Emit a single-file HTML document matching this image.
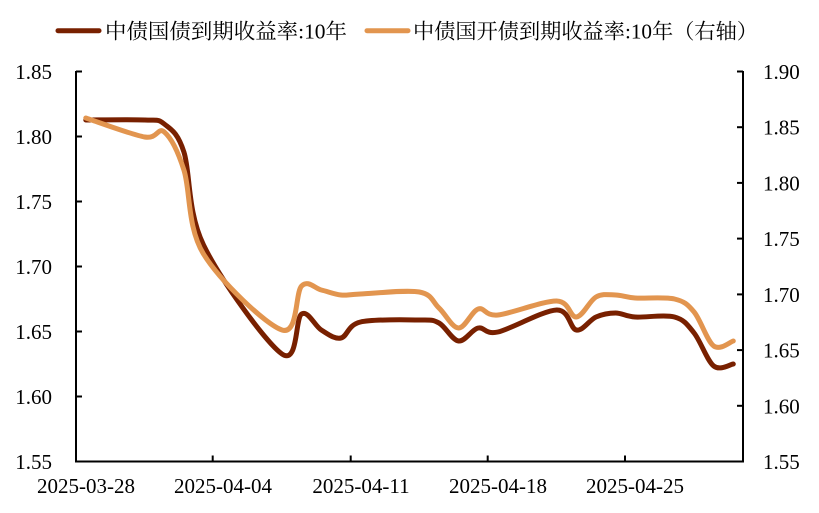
<!DOCTYPE html>
<html>
<head>
<meta charset="utf-8">
<style>
  html, body { margin:0; padding:0; background:#ffffff; }
  body { width:819px; height:513px; overflow:hidden; }
  svg { display:block; }
  .tk { font-family:"Liberation Serif", "Noto Serif CJK SC", serif; font-size:21px; fill:#000; }
  .lg { font-family:"Liberation Serif", "Noto Serif CJK SC", serif; font-size:21px; fill:#000; }
</style>
</head>
<body>
<svg width="819" height="513" viewBox="0 0 819 513" xmlns="http://www.w3.org/2000/svg">
  <rect x="0" y="0" width="819" height="513" fill="#ffffff"/>

  <!-- Legend -->
  <line x1="58" y1="30.7" x2="99" y2="30.7" stroke="#782000" stroke-width="5" stroke-linecap="round"/>
  <text class="lg" x="105" y="38.5" textLength="242" lengthAdjust="spacingAndGlyphs">中债国债到期收益率:10年</text>
  <line x1="367" y1="30.7" x2="408" y2="30.7" stroke="#E2954F" stroke-width="5" stroke-linecap="round"/>
  <text class="lg" x="413" y="38.5" textLength="345" lengthAdjust="spacingAndGlyphs">中债国开债到期收益率:10年（右轴）</text>

  <!-- Axes -->
  <g stroke="#000" stroke-width="2" fill="none">
    <line x1="76" y1="71" x2="76" y2="462.5"/>
    <line x1="743" y1="71" x2="743" y2="462.5"/>
    <line x1="75" y1="461.5" x2="744" y2="461.5"/>
    <!-- left ticks -->
    <line x1="76" y1="71.5" x2="82" y2="71.5"/>
    <line x1="76" y1="136.5" x2="82" y2="136.5"/>
    <line x1="76" y1="201.5" x2="82" y2="201.5"/>
    <line x1="76" y1="266.5" x2="82" y2="266.5"/>
    <line x1="76" y1="331.5" x2="82" y2="331.5"/>
    <line x1="76" y1="396.5" x2="82" y2="396.5"/>
    <!-- right ticks -->
    <line x1="737" y1="71.5" x2="743" y2="71.5"/>
    <line x1="737" y1="127.2" x2="743" y2="127.2"/>
    <line x1="737" y1="182.9" x2="743" y2="182.9"/>
    <line x1="737" y1="238.6" x2="743" y2="238.6"/>
    <line x1="737" y1="294.4" x2="743" y2="294.4"/>
    <line x1="737" y1="350.1" x2="743" y2="350.1"/>
    <line x1="737" y1="405.8" x2="743" y2="405.8"/>
    <!-- x ticks -->
    <line x1="212.7" y1="455.5" x2="212.7" y2="461.5"/>
    <line x1="350.7" y1="455.5" x2="350.7" y2="461.5"/>
    <line x1="487.7" y1="455.5" x2="487.7" y2="461.5"/>
    <line x1="625" y1="455.5" x2="625" y2="461.5"/>
  </g>

  <!-- Left tick labels -->
  <g class="tk" text-anchor="end">
    <text x="52" y="79">1.85</text>
    <text x="52" y="144">1.80</text>
    <text x="52" y="209">1.75</text>
    <text x="52" y="274">1.70</text>
    <text x="52" y="339">1.65</text>
    <text x="52" y="404">1.60</text>
    <text x="52" y="469">1.55</text>
  </g>
  <!-- Right tick labels -->
  <g class="tk" text-anchor="start">
    <text x="763" y="79">1.90</text>
    <text x="763" y="134.7">1.85</text>
    <text x="763" y="190.4">1.80</text>
    <text x="763" y="246.1">1.75</text>
    <text x="763" y="301.9">1.70</text>
    <text x="763" y="357.6">1.65</text>
    <text x="763" y="413.3">1.60</text>
    <text x="763" y="469">1.55</text>
  </g>
  <!-- X labels -->
  <g class="tk" text-anchor="middle">
    <text x="86" y="493">2025-03-28</text>
    <text x="223" y="493">2025-04-04</text>
    <text x="361" y="493">2025-04-11</text>
    <text x="498" y="493">2025-04-18</text>
    <text x="635" y="493">2025-04-25</text>
  </g>

  <!-- Series -->
  <path id="s1" fill="none" stroke="#782000" stroke-width="5" stroke-linecap="round" stroke-linejoin="round"
    d="M85.8,120 L144.7,120 L164.3,124 L183.9,152 L203.5,245 L282,354 L301.6,314 L321.3,330 L340.9,338 L360.5,322 L419.4,320 L439,323 L458.6,341 L478.2,328 L497.9,332 L556.7,310 L576.4,330 L596,317 L615.6,313 L635.2,317 L674.5,317 L694.1,333 L713.7,366 L733.3,364"/>
  <path id="s2" fill="none" stroke="#E2954F" stroke-width="5" stroke-linecap="round" stroke-linejoin="round"
    d="M85.8,118 L144.7,137 L164.3,132 L183.9,170 L203.5,254 L282,330 L301.6,286 L321.3,290 L340.9,295 L360.5,294 L419.4,292 L439,308 L458.6,328 L478.2,309 L497.9,315 L556.7,301 L576.4,317 L596,297 L615.6,295 L635.2,298 L674.5,299 L694.1,312 L713.7,346 L733.3,341"/>
</svg>
<script>
(function(){
  var d1=[[85.8,120],[144.7,120],[164.3,124],[183.9,152],[203.5,245],[282,354],[301.6,314],[321.3,330],[340.9,338],[360.5,322],[419.4,320],[439,323],[458.6,341],[478.2,328],[497.9,332],[556.7,310],[576.4,330],[596,317],[615.6,313],[635.2,317],[674.5,317],[694.1,333],[713.7,366],[733.3,364]];
  var d2=[[85.8,118],[144.7,137],[164.3,132],[183.9,170],[203.5,254],[282,330],[301.6,286],[321.3,290],[340.9,295],[360.5,294],[419.4,292],[439,308],[458.6,328],[478.2,309],[497.9,315],[556.7,301],[576.4,317],[596,297],[615.6,295],[635.2,298],[674.5,299],[694.1,312],[713.7,346],[733.3,341]];
  function smooth(p){
    var n=p.length, s="M"+p[0][0].toFixed(2)+","+p[0][1].toFixed(2);
    for(var i=0;i<n-1;i++){
      var p0=p[i>0?i-1:0], p1=p[i], p2=p[i+1], p3=p[i+2<n?i+2:n-1];
      var c1x=p1[0]+(p2[0]-p0[0])/6, c1y=p1[1]+(p2[1]-p0[1])/6;
      var c2x=p2[0]-(p3[0]-p1[0])/6, c2y=p2[1]-(p3[1]-p1[1])/6;
      s+=" C"+c1x.toFixed(2)+","+c1y.toFixed(2)+" "+c2x.toFixed(2)+","+c2y.toFixed(2)+" "+p2[0].toFixed(2)+","+p2[1].toFixed(2);
    }
    return s;
  }
  document.getElementById("s1").setAttribute("d",smooth(d1));
  document.getElementById("s2").setAttribute("d",smooth(d2));
})();
</script>
</body>
</html>
